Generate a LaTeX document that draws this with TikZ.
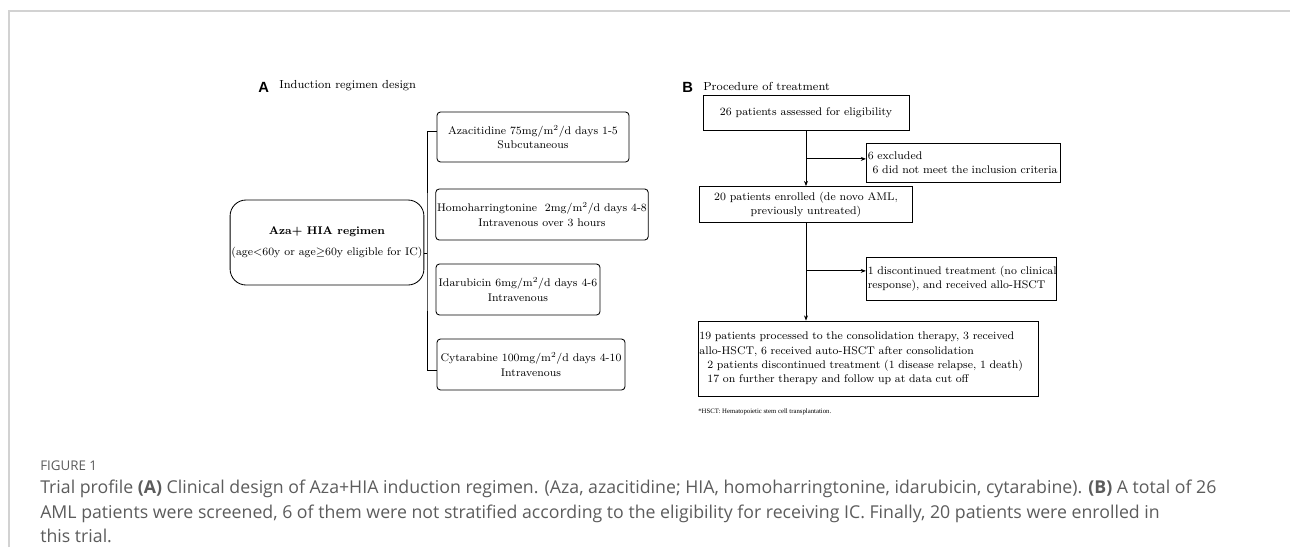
\documentclass[tikz,border=0pt]{standalone}
\usepackage{amsmath,amssymb}
\usepackage{fontspec}
\usepackage{tikz}
\usetikzlibrary{arrows.meta,calc}
\usepackage{xcolor}
\newfontfamily\capfont{Open Sans}
\newfontfamily\panelfont{Liberation Sans}
\newfontfamily\notefont{Liberation Serif}
\definecolor{framegray}{HTML}{D2D2D2}
\definecolor{capgray}{HTML}{5C5C5C}
\newcommand{\keepline}[1]{\mbox{#1}}

\begin{document}
\begin{tikzpicture}[x=0.025cm,y=-0.025cm,>={Stealth[length=1.3mm,width=1mm]},
  every node/.style={font=\fontsize{7.9}{10.2}\selectfont},
  drug/.style={draw,rounded corners=2.5pt,line width=0.6pt,align=center,inner sep=1pt},
  flow/.style={draw,line width=0.6pt,inner sep=1pt},
  link/.style={line width=0.6pt},
  head/.style={anchor=west,inner sep=0pt,font=\fontsize{8.3}{10}\selectfont},
  letter/.style={anchor=west,inner sep=0pt,font=\panelfont\bfseries\fontsize{10.5}{12}\selectfont}]
\useasboundingbox (0,0) rectangle (1290,547);
\draw[framegray,line width=1.4pt] (9,547) -- (9,11) -- (1290,11);

% A: induction regimen
\node[letter] (letA) at (258,87) {A};
\node[head] (headA) at (279,86) {Induction regimen design};
\node[drug,rounded corners=0.4cm,minimum width=4.5cm,minimum height=2.125cm] (regimen) at (327,242.5)
  {\textbf{Aza+ HIA regimen}\\[5pt](age$<$60y or age$\geq$60y eligible for IC)};
\node[drug,minimum width=4.8cm,minimum height=1.25cm] (aza) at (533,137)
  {Azacitidine 75mg/m\textsuperscript{2}/d days 1-5\\Subcutaneous};
\node[drug,minimum width=5.25cm,minimum height=1.275cm] (homo) at (542,214.5)
  {Homoharringtonine\ \ 2mg/m\textsuperscript{2}/d days 4-8\\Intravenous over 3 hours};
\node[drug,minimum width=4.1cm,minimum height=1.275cm] (ida) at (518,289.5)
  {Idarubicin 6mg/m\textsuperscript{2}/d days 4-6\\Intravenous};
\node[drug,minimum width=4.7cm,minimum height=1.275cm] (cyt) at (531,364.5)
  {Cytarabine 100mg/m\textsuperscript{2}/d days 4-10\\Intravenous};
\coordinate (fork) at (427,253);
\draw[link] (regimen.east |- fork) -- (fork);
\draw[link] ([yshift=0.15cm]aza.west) -| (fork) |- ([yshift=-0.16cm]cyt.west);

% B: procedure
\node[letter] (letB) at (682,87) {B};
\node[head] (headB) at (703,86) {Procedure of treatment};
\node[flow,minimum width=5.15cm,minimum height=0.875cm] (assess) at (806,112.5)
  {26 patients assessed for eligibility};
\node[flow,align=left,text width=4.784cm,minimum height=0.975cm] (excl) at (963.5,162.5)
  {\keepline{6 excluded}\\\keepline{\hspace*{0.12cm}6 did not meet the inclusion criteria}};
\node[flow,align=center,minimum width=5.325cm,minimum height=0.9cm] (enrol) at (806,204.5)
  {20 patients enrolled (de novo AML,\\previously untreated)};
\node[flow,align=left,text width=4.685cm,minimum height=1.075cm] (disc) at (961.5,278.5)
  {\keepline{1 discontinued treatment (no clinical}\\\keepline{response), and received allo-HSCT}};
\node[flow,align=left,text width=8.43cm,minimum height=1.875cm] (result) at (868,358.5)
  {\keepline{19 patients processed to the consolidation therapy, 3 received}\\
   \keepline{allo-HSCT, 6 received auto-HSCT after consolidation}\\
   \keepline{\hspace*{0.2cm}2 patients discontinued treatment (1 disease relapse, 1 death)}\\
   \keepline{\hspace*{0.2cm}17 on further therapy and follow up at data cut off}};
\node[anchor=west,inner sep=0pt,font=\notefont\fontsize{4.8}{6}\selectfont] (note) at (698,412)
  {*HSCT: Hematopoietic stem cell transplantation.};
\coordinate (exclin) at ([yshift=0.09cm]excl.west);
\coordinate (discin) at ([yshift=0.19cm]disc.west);
\draw[link,->] (assess.south) -- (assess.south |- enrol.north);
\draw[link,->] (assess.south |- exclin) -- (exclin);
\draw[link,->] (enrol.south) -- (enrol.south |- result.north);
\draw[link,->] (enrol.south |- discin) -- (discin);

% caption
\node[anchor=west,inner sep=0pt,text=capgray,font=\capfont\fontsize{9.5}{11}\selectfont] (figlabel) at (40,466) {FIGURE 1};
\node[anchor=north west,inner sep=0pt,align=left,text=capgray,font=\capfont\fontsize{12.6}{14.9}\selectfont] (caption) at (40,480)
  {Trial profile \textbf{(A)} Clinical design of Aza+HIA induction regimen. (Aza, azacitidine; HIA, homoharringtonine, idarubicin, cytarabine). \textbf{(B)} A total of 26\\[2.5pt]
   AML patients were screened, 6 of them were not stratified according to the eligibility for receiving IC. Finally, 20 patients were enrolled in\\[2.5pt]
   this trial.};
\end{tikzpicture}
\end{document}
